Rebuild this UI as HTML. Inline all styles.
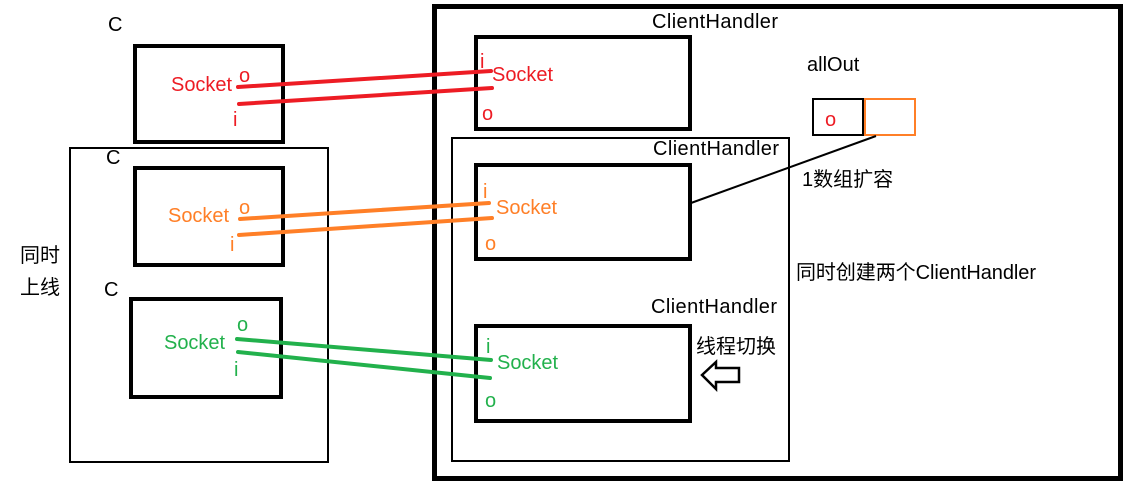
<!DOCTYPE html>
<html><head><meta charset="utf-8"><style>body{margin:0;background:#fff}svg{display:block}text{font-family:"Liberation Sans","Noto Sans CJK SC",sans-serif;font-size:20px}</style></head><body>
<svg width="1135" height="485" xmlns="http://www.w3.org/2000/svg">
<g fill="none" stroke="#000">
<rect x="434.5" y="6.5" width="686" height="472" stroke-width="5"/>
<rect x="70" y="148" width="258" height="314" stroke-width="2"/>
<rect x="135" y="46" width="148" height="96" stroke-width="4"/>
<rect x="135" y="168" width="148" height="97" stroke-width="4"/>
<rect x="131" y="299" width="150" height="98" stroke-width="4"/>
<rect x="476" y="37" width="214" height="92" stroke-width="4"/>
<rect x="452" y="138" width="337" height="323" stroke-width="2"/>
<rect x="476" y="165" width="214" height="94" stroke-width="4"/>
<rect x="476" y="326" width="214" height="95" stroke-width="4"/>
<rect x="813" y="99" width="50" height="36" stroke-width="2"/>
<rect x="865" y="99" width="50" height="36" stroke="#ff7f27" stroke-width="2"/>
<line x1="691" y1="203" x2="876" y2="136" stroke-width="2"/>
<path d="M702 375 L716 362 L716 368 L739 368 L739 382 L716 382 L716 389 Z" stroke-width="2.5"/>
</g>
<g stroke-width="4" stroke-linecap="round">
<line x1="238" y1="87" x2="491" y2="71" stroke="#ed1c24"/>
<line x1="239" y1="104" x2="492" y2="88" stroke="#ed1c24"/>
<line x1="240" y1="219" x2="489" y2="203" stroke="#ff7f27"/>
<line x1="239" y1="235" x2="492" y2="218" stroke="#ff7f27"/>
<line x1="237" y1="339" x2="491" y2="360" stroke="#22b14c"/>
<line x1="238" y1="352" x2="490" y2="378" stroke="#22b14c"/>
</g>
<g fill="#000">
<text x="108" y="31">C</text><text x="106" y="164">C</text><text x="104" y="296">C</text>
<text x="652" y="28" textLength="126">ClientHandler</text><text x="653" y="155" textLength="126">ClientHandler</text><text x="651" y="313" textLength="126">ClientHandler</text>
<text x="807" y="71">allOut</text><text x="802" y="186">1数组扩容</text>
<text x="796" y="279" textLength="240">同时创建两个ClientHandler</text><text x="696" y="353">线程切换</text>
<text x="20" y="262">同时</text><text x="20" y="294">上线</text>
</g>
<g fill="#ed1c24"><text x="171" y="91" textLength="61">Socket</text><text x="239" y="82">o</text><text x="233" y="126">i</text>
<text x="480" y="68">i</text><text x="492" y="81" textLength="61">Socket</text><text x="482" y="120">o</text><text x="825" y="126">o</text></g>
<g fill="#ff7f27"><text x="168" y="222" textLength="61">Socket</text><text x="239" y="214">o</text><text x="230" y="251">i</text>
<text x="483" y="198">i</text><text x="496" y="214" textLength="61">Socket</text><text x="485" y="250">o</text></g>
<g fill="#22b14c"><text x="164" y="349" textLength="61">Socket</text><text x="237" y="331">o</text><text x="234" y="376">i</text>
<text x="486" y="353">i</text><text x="497" y="369" textLength="61">Socket</text><text x="485" y="407">o</text></g>
</svg>
</body></html>
